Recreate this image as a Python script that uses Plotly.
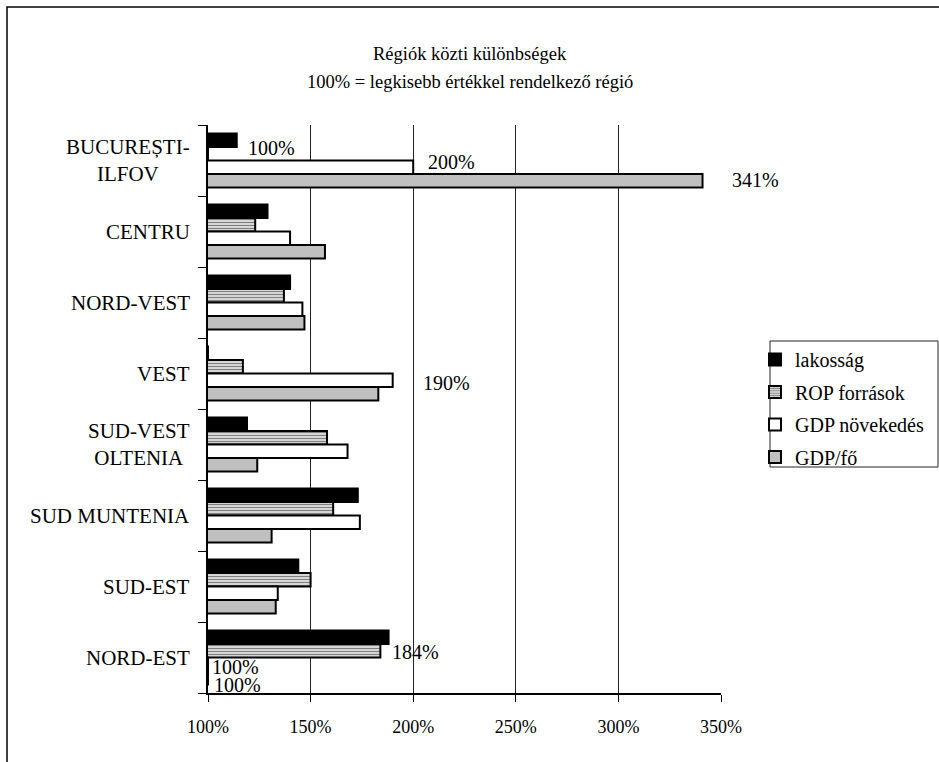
import plotly.graph_objects as go

# Regions (top to bottom) and their indices relative to the smallest region (=100%)
categories = ["BUCUREȘTI-<br>ILFOV", "CENTRU", "NORD-VEST", "VEST",
              "SUD-VEST<br>OLTENIA", "SUD MUNTENIA", "SUD-EST", "NORD-EST"]
lakossag = [114, 129, 140, 100, 119, 173, 144, 188]
rop_forrasok = [100, 123, 137, 117, 158, 161, 150, 184]
gdp_novekedes = [200, 140, 146, 190, 168, 174, 134, 100]
gdp_fo = [341, 157, 147, 183, 124, 131, 133, 100]

series_names = ["lakosság", "ROP források", "GDP növekedés", "GDP/fő"]
x_ticks = [100, 150, 200, 250, 300, 350]

# Value labels: (series index, region index, x shift px, y shift px)
value_labels = [
    (1, 0, 38, 6),
    (2, 0, 13, 5),
    (3, 0, 27, 1),
    (2, 3, 28, -3),
    (1, 7, 10, -1),
    (2, 7, 2, -3),
    (3, 7, 4, -7),
]

FONT = "Liberation Serif"
W, H = 939, 762
ML, MR, MT, MB = 208, 218, 125, 69
PW, PH = W - ML - MR, H - MT - MB
BARGAP = 0.24


def px_x(px):
    return (px - ML) / PW


def px_y(py):
    return (H - MB - py) / PH


all_series = [lakossag, rop_forrasok, gdp_novekedes, gdp_fo]
positions = list(range(len(categories)))

fig = go.Figure()
styles = [
    dict(color="#000000"),
    dict(color="#ffffff", pattern=dict(shape="-", fgcolor="#000000", bgcolor="#ffffff",
                                       size=3, solidity=0.55)),
    dict(color="#ffffff"),
    dict(color="#c0c0c0"),
]
for name, vals, st in zip(series_names, all_series, styles):
    fig.add_trace(go.Bar(
        y=positions, x=vals, orientation="h", name=name, legendgroup=name,
        marker=dict(**st, line=dict(color="#000000", width=2)),
        hoverinfo="x+name",
    ))

annotations = []
# Title
annotations.append(dict(text="Régiók közti különbségek", x=px_x(469.5), y=px_y(42),
                        xref="paper", yref="paper", showarrow=False,
                        font=dict(size=18.5, family=FONT, color="#000")))
annotations.append(dict(text="100% = legkisebb értékkel rendelkező régió", x=px_x(470), y=px_y(70),
                        xref="paper", yref="paper", showarrow=False,
                        font=dict(size=18.5, family=FONT, color="#000")))
# Region names, centred lines, right edge next to the axis
for i, c in enumerate(categories):
    annotations.append(dict(text=c, x=px_x(192), y=i, xref="paper", yref="y",
                            xanchor="right", yanchor="middle", align="center",
                            showarrow=False, font=dict(size=21, family=FONT, color="#000")))
# Value labels
bar_frac = (1 - BARGAP) / len(series_names)
for s, r, dx, dy in value_labels:
    v = all_series[s][r]
    annotations.append(dict(text=f"{v}%", x=v, y=r + (s - 1.5) * bar_frac,
                            xref="x", yref="y", xanchor="left", yanchor="middle",
                            xshift=dx, yshift=dy, showarrow=False,
                            font=dict(size=20, family=FONT, color="#000")))

fig.update_layout(
    width=W, height=H,
    margin=dict(l=ML, r=MR, t=MT, b=MB, pad=0, autoexpand=False),
    paper_bgcolor="#ffffff", plot_bgcolor="#ffffff",
    barmode="group", bargap=BARGAP, bargroupgap=0,
    showlegend=True,
    legend=dict(x=px_x(755), y=px_y(340), xanchor="left", yanchor="top",
                bgcolor="rgba(0,0,0,0)", borderwidth=0,
                font=dict(size=20, family=FONT, color="#000"),
                itemwidth=30, traceorder="grouped", tracegroupgap=3.5),
    annotations=annotations,
    shapes=[
        # outer chart frame
        dict(type="rect", xref="paper", yref="paper",
             x0=px_x(7), x1=px_x(960), y0=px_y(780), y1=px_y(7),
             line=dict(color="#000000", width=1.5), layer="below"),
        # legend box
        dict(type="rect", xref="paper", yref="paper",
             x0=px_x(770), x1=px_x(938), y0=px_y(467), y1=px_y(341),
             line=dict(color="#222222", width=1), fillcolor="#ffffff", layer="above"),
    ],
    xaxis=dict(range=[100, 350], tickvals=x_ticks,
               ticktext=[f"{t}%" for t in x_ticks],
               showgrid=True, gridcolor="#222222", gridwidth=1,
               showline=True, linecolor="#000000", linewidth=1.5,
               ticks="outside", ticklen=7, tickcolor="#000000",
               ticklabelstandoff=10, zeroline=False,
               tickfont=dict(size=18, family=FONT, color="#000")),
    yaxis=dict(type="linear", range=[len(categories) - 0.5, -0.5],
               tickvals=[i - 0.5 for i in range(len(categories) + 1)],
               showticklabels=False, showgrid=False, zeroline=False,
               showline=True, linecolor="#000000", linewidth=1.5,
               ticks="outside", ticklen=8, tickcolor="#000000"),
    font=dict(family=FONT, color="#000"),
)

fig.write_html("out.html")
